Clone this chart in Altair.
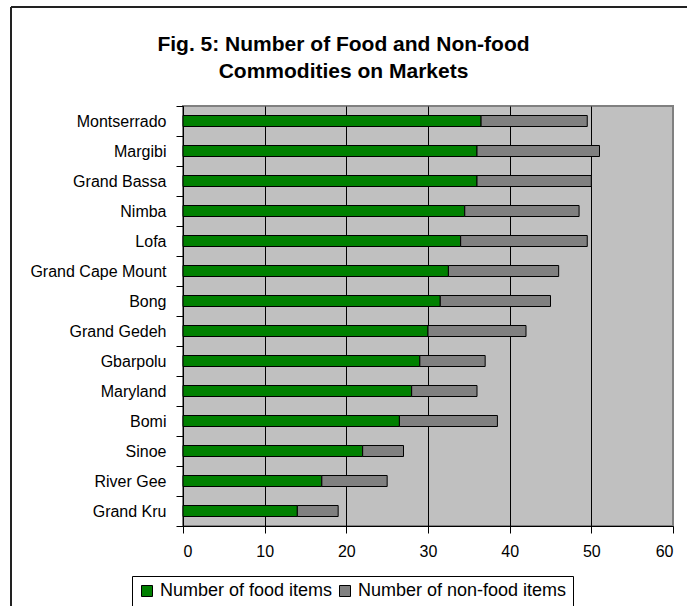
import altair as alt
import pandas as pd

counties = ["Montserrado", "Margibi", "Grand Bassa", "Nimba", "Lofa",
            "Grand Cape Mount", "Bong", "Grand Gedeh", "Gbarpolu", "Maryland",
            "Bomi", "Sinoe", "River Gee", "Grand Kru"]
food_items = [36.5, 36, 36, 34.5, 34, 32.5, 31.5, 30, 29, 28, 26.5, 22, 17, 14]
nonfood_items = [13, 15, 14, 14, 15.5, 13.5, 13.5, 12, 8, 8, 12, 5, 8, 5]
series = ["Number of food items", "Number of non-food items"]
series_colors = ["#008000", "#808080"]
x_ticks = [0, 10, 20, 30, 40, 50, 60]
title_lines = ["Fig. 5: Number of Food and Non-food", "Commodities on Markets"]

rows = []
for i, c in enumerate(counties):
    rows.append({"county": c, "series": series[0], "value": food_items[i], "k": 0})
    rows.append({"county": c, "series": series[1], "value": nonfood_items[i], "k": 1})
df = pd.DataFrame(rows)

FONT = "Liberation Sans"

bars = alt.Chart(df).mark_bar(size=11, stroke="black", strokeWidth=1).encode(
    y=alt.Y("county:N", sort=counties, title=None,
            scale=alt.Scale(paddingInner=0, paddingOuter=0),
            axis=alt.Axis(tickBand="extent", tickSize=7, labelPadding=10,
                          labelFontSize=16, labelFont=FONT, labelColor="black",
                          domainColor="black", tickColor="black", grid=False)),
    x=alt.X("value:Q", stack="zero", title=None,
            scale=alt.Scale(domain=[0, 60], nice=False),
            axis=alt.Axis(values=x_ticks, tickSize=7, labelPadding=10,
                          labelFontSize=16, labelFont=FONT, labelColor="black",
                          domainColor="black", tickColor="black", grid=True,
                          gridColor=alt.condition("datum.value == 60", alt.value("#808080"), alt.value("black")),
                          gridOpacity=1, gridWidth=1)),
    color=alt.Color("series:N",
                    scale=alt.Scale(domain=series, range=series_colors),
                    legend=alt.Legend(title=None, orient="none", legendX=-51, legendY=470,
                                      direction="horizontal", strokeColor="black",
                                      fillColor="white", padding=6, symbolType="square",
                                      symbolSize=121, symbolStrokeColor="black",
                                      symbolStrokeWidth=1, symbolOpacity=1,
                                      labelFontSize=18, labelFont=FONT, labelColor="black",
                                      labelLimit=0, labelOffset=4, columnPadding=3)),
    order=alt.Order("k:Q"),
)

single_df = pd.DataFrame({"k": [0]})
frame_left = alt.Chart(single_df).mark_rule(color="#222222", strokeWidth=2).encode(
    x=alt.value(-172), y=alt.value(-99), y2=alt.value(520))
frame_top = alt.Chart(single_df).mark_rule(color="#222222", strokeWidth=2).encode(
    x=alt.value(-172), x2=alt.value(520), y=alt.value(-99))

title = alt.Chart(single_df).mark_text(
    font=FONT, fontSize=21, fontWeight="bold", color="black",
    align="center", baseline="alphabetic", lineHeight=26.5
).encode(x=alt.value(160.5), y=alt.value(-55), text=alt.value(title_lines))

chart = alt.layer(bars, frame_left, frame_top, title).properties(
    width=490, height=420,
    autosize=alt.AutoSizeParams(type="none"),
    padding={"left": 183, "top": 106, "right": 14, "bottom": 80},
    background="white",
).configure_view(fill="#C0C0C0", stroke="#808080", strokeWidth=2)

chart.save("out.html", embed_options={"renderer": "svg", "actions": False})
